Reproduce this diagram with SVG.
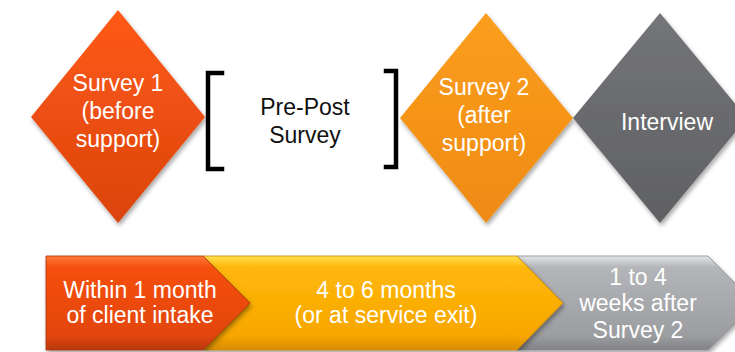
<svg xmlns="http://www.w3.org/2000/svg" width="735" height="352" viewBox="0 0 735 352">
  <style>
    .lbl { font-family: "Liberation Sans", Arial, sans-serif; font-size: 23px; text-anchor: middle; }
    .light { fill: #ffffff; }
    .dark { fill: #111111; }
    .bracket { fill: none; stroke: #000000; stroke-width: 4.5; stroke-linecap: square; }
  </style>
  <defs>
    <filter id="shadow" x="-20%" y="-20%" width="140%" height="140%">
      <feDropShadow dx="1.5" dy="3" stdDeviation="2" flood-color="#000" flood-opacity="0.35"/>
    </filter>
    <linearGradient id="gRed" x1="0" y1="0" x2="0" y2="1">
      <stop offset="0" stop-color="#ff5a16"/>
      <stop offset="1" stop-color="#da440e"/>
    </linearGradient>
    <linearGradient id="gOrange" x1="0" y1="0" x2="0" y2="1">
      <stop offset="0" stop-color="#fb9e1e"/>
      <stop offset="1" stop-color="#ef8a12"/>
    </linearGradient>
    <linearGradient id="gGray" x1="0" y1="0" x2="0" y2="1">
      <stop offset="0" stop-color="#747578"/>
      <stop offset="1" stop-color="#5f6063"/>
    </linearGradient>
    <!-- bevelled bar fills -->
    <linearGradient id="bRed" x1="0" y1="0" x2="0" y2="1">
      <stop offset="0" stop-color="#ff7a3a"/>
      <stop offset="0.12" stop-color="#f6500f"/>
      <stop offset="0.85" stop-color="#e2450c"/>
      <stop offset="1" stop-color="#b8380a"/>
    </linearGradient>
    <linearGradient id="bGold" x1="0" y1="0" x2="0" y2="1">
      <stop offset="0" stop-color="#ffe050"/>
      <stop offset="0.12" stop-color="#ffb80a"/>
      <stop offset="0.85" stop-color="#f7a600"/>
      <stop offset="1" stop-color="#d88c00"/>
    </linearGradient>
    <linearGradient id="bSilver" x1="0" y1="0" x2="0" y2="1">
      <stop offset="0" stop-color="#e4e5e6"/>
      <stop offset="0.12" stop-color="#b3b5b8"/>
      <stop offset="0.85" stop-color="#9b9da0"/>
      <stop offset="1" stop-color="#808285"/>
    </linearGradient>
  </defs>

  <!-- diamonds -->
  <g id="survey1">
    <polygon points="118,10 205,117 118,223 31,117" fill="url(#gRed)" filter="url(#shadow)"/>
    <text class="lbl light" x="118" y="91">Survey 1</text>
    <text class="lbl light" x="118" y="119">(before</text>
    <text class="lbl light" x="118" y="147">support)</text>
  </g>

  <g id="prepost">
    <path class="bracket" d="M222,73 H208 V169 H222"/>
    <path class="bracket" d="M386,71 H396 V167 H386"/>
    <text class="lbl dark" x="305" y="115">Pre-Post</text>
    <text class="lbl dark" x="305" y="143">Survey</text>
  </g>

  <g id="survey2">
    <polygon points="486,13 573,118 486,223 400,118" fill="url(#gOrange)" filter="url(#shadow)"/>
    <text class="lbl light" x="484" y="95">Survey 2</text>
    <text class="lbl light" x="484" y="123">(after</text>
    <text class="lbl light" x="484" y="151">support)</text>
  </g>

  <g id="interview">
    <polygon points="660,13 747,118 660,223 573,118" fill="url(#gGray)" filter="url(#shadow)"/>
    <text class="lbl light" x="667" y="130">Interview</text>
  </g>

  <!-- timeline bar -->
  <g id="phase3">
    <polygon points="517,256 708,256 755,303 708,350 517,350 563,303" fill="url(#bSilver)" stroke="#8a8c8f" stroke-width="0.8" filter="url(#shadow)"/>
    <text class="lbl light" x="638" y="285">1 to 4</text>
    <text class="lbl light" x="638" y="311">weeks after</text>
    <text class="lbl light" x="638" y="338">Survey 2</text>
  </g>

  <g id="phase2">
    <polygon points="203,256 517,256 563,303 517,350 203,350 250,303" fill="url(#bGold)" stroke="#c98400" stroke-width="0.8" filter="url(#shadow)"/>
    <text class="lbl light" x="386" y="298">4 to 6 months</text>
    <text class="lbl light" x="386" y="323">(or at service exit)</text>
  </g>

  <g id="phase1">
    <polygon points="46,256 203,256 250,303 203,350 46,350" fill="url(#bRed)" stroke="#a9330a" stroke-width="0.8" filter="url(#shadow)"/>
    <text class="lbl light" x="140" y="298">Within 1 month</text>
    <text class="lbl light" x="140" y="323">of client intake</text>
  </g>
</svg>
